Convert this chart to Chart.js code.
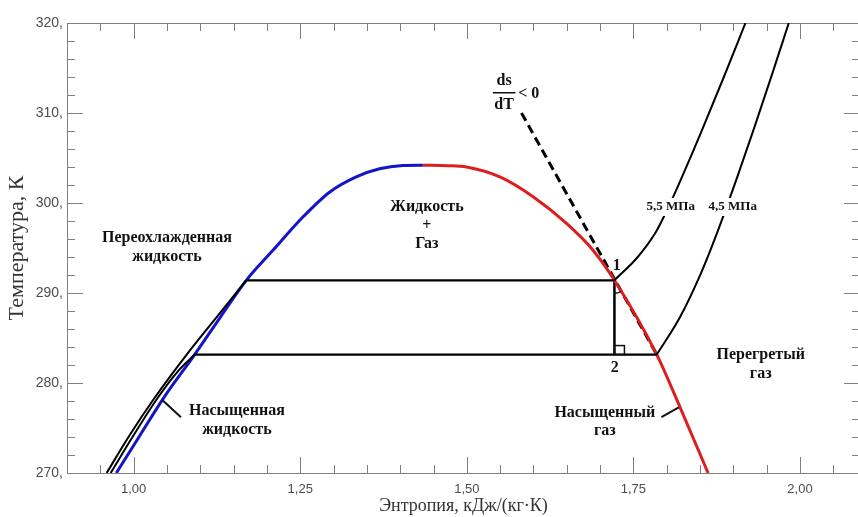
<!DOCTYPE html>
<html>
<head>
<meta charset="utf-8">
<script src="https://cdn.jsdelivr.net/npm/chart.js@4.4.1/dist/chart.umd.min.js"></script>
<style>
  html, body { margin: 0; padding: 0; background: #fff; overflow: hidden; }
  #wrap { width: 862px; height: 517px; }
</style>
</head>
<body>
<div id="wrap"><canvas id="chart" width="862" height="517"></canvas></div>
<script>
// тики осей
var xTicks = [1.00, 1.25, 1.50, 1.75, 2.00];
var yTicks = [270, 280, 290, 300, 310, 320];

// линия насыщенной жидкости (синяя)
var liqS = [0.974, 1.008, 1.0446, 1.0916, 1.130, 1.169, 1.209, 1.254, 1.294, 1.334, 1.369, 1.404, 1.434];
var liqT = [270, 274, 278.3, 283.16, 287.3, 291.41, 294.74, 298.44, 301.2, 302.9, 303.8, 304.16, 304.2];

// линия насыщенного газа (красная)
var vapS = [1.434, 1.47, 1.4996, 1.5496, 1.60, 1.65, 1.69, 1.7215, 1.785, 1.82, 1.862];
var vapT = [304.2, 304.15, 304.0, 302.9, 300.67, 297.7, 294.7, 291.41, 283.16, 277.3, 270];

// изобара 5,5 МПа
var p55LiqS = [0.9595, 0.9923, 1.0310, 1.0796, 1.1243, 1.169];
var p55LiqT = [270, 274, 278.3, 283.16, 287.3, 291.41];
var p55MixS = [1.169, 1.7215];
var p55MixT = [291.41, 291.41];
var p55GasS = [1.7215, 1.7565, 1.7823, 1.7954, 1.8164, 1.8507, 1.8857, 1.9181];
var p55GasT = [291.41, 294.0, 296.6, 298.44, 301.8, 307.7, 314.0, 320];

// изобара 4,5 МПа
var p45LiqS = [0.9655, 0.9983, 1.0357, 1.0663, 1.0916];
var p45LiqT = [270, 274, 278.3, 281.3, 283.16];
var p45MixS = [1.0916, 1.785];
var p45MixT = [283.16, 283.16];
var p45GasS = [1.785, 1.820, 1.8511, 1.8751, 1.9059, 1.9315, 1.9585, 1.9831];
var p45GasT = [283.16, 287.33, 292.15, 296.59, 302.9, 308.4, 314.4, 320];

// ds/dT < 0 и процесс 1-2
var dashS = [1.582, 1.785];
var dashT = [310, 283.16];
var procS = [1.7215, 1.7215];
var procT = [291.41, 283.16];

function pts(s, t) {
    return s.map(function (v, i) { return { x: v, y: t[i] }; });
}

function line(s, t, color, width, extra) {
    var ds = {
        data: pts(s, t),
        showLine: true,
        borderColor: color,
        borderWidth: width,
        pointRadius: 0,
        fill: false,
        cubicInterpolationMode: 'monotone'
    };
    return Object.assign(ds, extra || {});
}

var straight = { cubicInterpolationMode: 'default', tension: 0 };
var serif = "'Liberation Serif', 'Times New Roman', serif";

/* рамка и засечки внутрь */
var framePlugin = {
    id: 'frame',
    beforeDatasetsDraw: function (chart) {
        var ctx = chart.ctx, a = chart.chartArea, x = chart.scales.x, y = chart.scales.y;
        ctx.save();
        ctx.strokeStyle = '#808080';
        ctx.lineWidth = 1;
        ctx.strokeRect(a.left + 0.5, a.top + 0.5, a.right - a.left - 1, a.bottom - a.top);
        ctx.beginPath();
        for (var i = 19; i <= 41; i++) {
            var v = i * 0.05;
            var px = Math.round(x.getPixelForValue(v)) + 0.5;
            var major = xTicks.some(function (t) { return Math.abs(t - v) < 1e-6; });
            var len = major ? 16 : 8;
            ctx.moveTo(px, a.bottom); ctx.lineTo(px, a.bottom - len);
            ctx.moveTo(px, a.top); ctx.lineTo(px, a.top + len);
        }
        for (var t = 272; t < 320; t += 2) {
            var py = Math.round(y.getPixelForValue(t)) + 0.5;
            var l2 = (t % 10 === 0) ? 16 : 8;
            ctx.moveTo(a.left, py); ctx.lineTo(a.left + l2, py);
            ctx.moveTo(a.right, py); ctx.lineTo(a.right - l2, py);
        }
        ctx.stroke();
        ctx.restore();
    }
};

/* подписи областей */
var notesPlugin = {
    id: 'notes',
    afterDatasetsDraw: function (chart) {
        var ctx = chart.ctx, x = chart.scales.x, y = chart.scales.y;
        function X(s) { return x.getPixelForValue(s); }
        function Y(t) { return y.getPixelForValue(t); }
        function text(lines, s, t, size, lh) {
            ctx.font = 'bold ' + size + 'px ' + serif;
            ctx.fillStyle = '#111';
            ctx.textAlign = 'center';
            ctx.textBaseline = 'middle';
            lines.forEach(function (str, i) { ctx.fillText(str, X(s), Y(t) + i * lh); });
        }
        function boxed(str, s, t) {
            ctx.font = 'bold 13px ' + serif;
            var w = ctx.measureText(str).width;
            ctx.fillStyle = '#fff';
            ctx.fillRect(X(s) - w / 2 - 2, Y(t) - 9, w + 4, 18);
            ctx.fillStyle = '#111';
            ctx.textAlign = 'center';
            ctx.textBaseline = 'middle';
            ctx.fillText(str, X(s), Y(t));
        }
        ctx.save();
        text(['Переохлажденная', 'жидкость'], 1.050, 296.1, 16, 19);
        text(['Жидкость', '+', 'Газ'], 1.440, 299.56, 16, 18.5);
        text(['Насыщенная', 'жидкость'], 1.155, 276.9, 16, 18.5);
        text(['Насыщенный', 'газ'], 1.707, 276.7, 16, 18.5);
        text(['Перегретый', 'газ'], 1.941, 283.1, 16, 18.5);
        text(['1'], 1.725, 293.0, 16, 0);
        text(['2'], 1.722, 281.7, 16, 0);
        boxed('5,5 МПа', 1.806, 299.56);
        boxed('4,5 МПа', 1.899, 299.56);

        // дробь ds/dT < 0
        text(['ds'], 1.556, 313.6, 16, 0);
        text(['dT'], 1.556, 310.9, 16, 0);
        ctx.strokeStyle = '#111';
        ctx.lineWidth = 1.5;
        ctx.beginPath();
        ctx.moveTo(X(1.539), Y(312.25)); ctx.lineTo(X(1.573), Y(312.25));
        ctx.stroke();
        ctx.font = 'bold 16px ' + serif;
        ctx.textAlign = 'left';
        ctx.fillText('< 0', X(1.577), Y(312.1));

        // выноски
        ctx.lineWidth = 2;
        ctx.beginPath();
        ctx.moveTo(X(1.043), Y(278.1)); ctx.lineTo(X(1.071), Y(276.2));
        ctx.moveTo(X(1.792), Y(276.2)); ctx.lineTo(X(1.818), Y(277.3));
        ctx.stroke();

        // прямой угол и дуга у точек 1 и 2
        var px = X(procS[1]), py = Y(procT[1]);
        ctx.lineWidth = 1.5;
        ctx.strokeRect(px, py - 9, 10, 9);
        var cx = X(procS[0]), cy = Y(procT[0]);
        var ang = Math.atan2(Y(dashT[1]) - Y(dashT[0]), X(dashS[1]) - X(dashS[0]));
        ctx.beginPath();
        ctx.arc(cx, cy, 13, ang, Math.PI / 2);
        ctx.stroke();
        ctx.restore();
    }
};

var ctx = document.getElementById('chart').getContext('2d');
new Chart(ctx, {
    type: 'scatter',
    data: {
        datasets: [
            line(p55LiqS, p55LiqT, '#000', 2),
            line(p45LiqS, p45LiqT, '#000', 2),
            line(p55MixS, p55MixT, '#000', 2.2, straight),
            line(p45MixS, p45MixT, '#000', 2.2, straight),
            line(p55GasS, p55GasT, '#000', 2),
            line(p45GasS, p45GasT, '#000', 2),
            line(liqS, liqT, '#1414c8', 3),
            line(vapS, vapT, '#dc1e1e', 3),
            line(dashS, dashT, '#000', 3, Object.assign({ borderDash: [9, 5] }, straight)),
            line(procS, procT, '#000', 2.5, straight)
        ]
    },
    options: {
        responsive: false,
        animation: false,
        layout: { padding: { top: 23, right: 2, left: 0, bottom: 0 } },
        plugins: {
            legend: { display: false },
            tooltip: { enabled: false }
        },
        scales: {
            x: {
                type: 'linear',
                min: 0.9,
                max: 2.09,
                grid: { display: false, drawTicks: false },
                border: { display: false },
                afterBuildTicks: function (s) { s.ticks = xTicks.map(function (v) { return { value: v }; }); },
                afterFit: function (s) { s.height = 44; },
                ticks: {
                    padding: 9,
                    maxRotation: 0,
                    color: '#4d4d4d',
                    font: { family: "'Liberation Sans', Arial, sans-serif", size: 13 },
                    callback: function (v) { return v.toFixed(2).replace('.', ','); }
                },
                title: {
                    display: true,
                    text: 'Энтропия, кДж/(кг·К)',
                    color: '#333',
                    font: { family: serif, size: 18 },
                    padding: { top: 0, bottom: 0 }
                }
            },
            y: {
                type: 'linear',
                min: 270,
                max: 320,
                grid: { display: false, drawTicks: false },
                border: { display: false },
                afterBuildTicks: function (s) { s.ticks = yTicks.map(function (v) { return { value: v }; }); },
                afterFit: function (s) { s.width = 67; },
                ticks: {
                    padding: 4,
                    color: '#4d4d4d',
                    font: { family: "'Liberation Sans', Arial, sans-serif", size: 14 },
                    callback: function (v) { return v + ','; }
                },
                title: {
                    display: true,
                    text: 'Температура, К',
                    color: '#333',
                    font: { family: serif, size: 22 },
                    padding: { top: 4, bottom: 0 }
                }
            }
        }
    },
    plugins: [framePlugin, notesPlugin]
});
</script>
</body>
</html>
